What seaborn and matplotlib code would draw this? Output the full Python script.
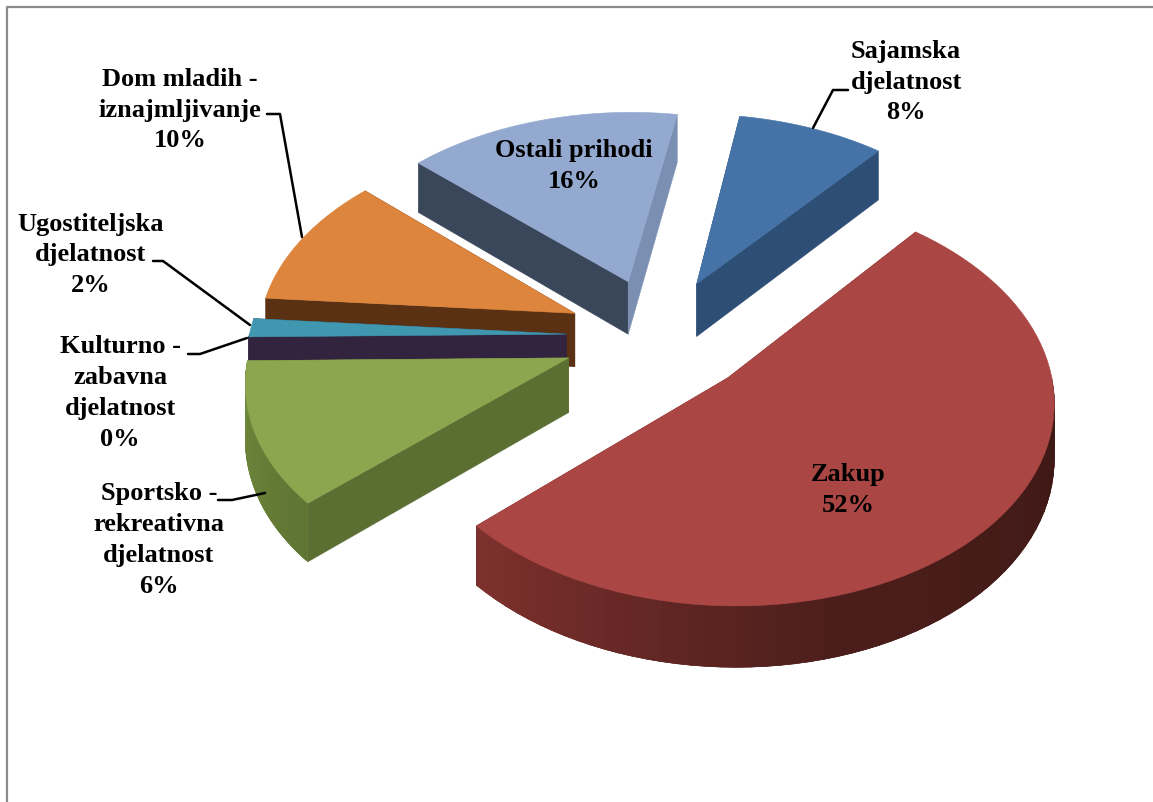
import numpy as np
import matplotlib
matplotlib.use("Agg")
import matplotlib.pyplot as plt
import seaborn as sns

# slices clockwise starting from the small blue one
categories = ['Sajamska\ndjelatnost', 'Zakup', 'Sportsko -\nrekreativna\ndjelatnost',
              'Kulturno -\nzabavna\ndjelatnost', 'Ugostiteljska\ndjelatnost',
              'Dom mladih -\niznajmljivanje', 'Ostali prihodi']
# printed labels
percent_labels = [8, 52, 6, 0, 2, 10, 16]
# share of the circle as drawn (sportsko is drawn bigger than its label says)
drawn_shares = [8.5, 52.4, 11.6, 0, 1.5, 10.7, 15.8]

top_colors = ['#4573a7', '#aa4644', '#8ca64f', '#7d5fa0', '#3f98b0', '#dd853d', '#94a9d0']
wall_colors = ['#2d4e75', '#6e2c2a', '#5c6f33', '#2a2340', '#32233f', '#5a3213', '#3a465a']
# rim colours follow the clockwise direction of each slice
rim_colors = [['#2d4e75', '#2d4e75'],
              ['#3a1714', '#3f1916', '#4c1e1b', '#7d312e'],
              ['#5f7533', '#708a3c'],
              ['#2a2340', '#2a2340'],
              ['#32233f', '#32233f'],
              ['#5a3213', '#5a3213'],
              ['#3a465a', '#3a465a']]
lit_wall = {6: '#7b8fb2'}

# label layout, in pixels of the image
label_xy = [(906, 82), (848, 490), (159, 540), (120, 393), (91, 255), (180, 110), (574, 166)]
leader_paths = [[(813, 128), (833, 90), (848, 90)],
                None,
                [(265, 493), (232, 500), (218, 500)],
                [(247, 338), (200, 354), (188, 354)],
                [(250, 325), (163, 261), (153, 261)],
                [(302, 237), (280, 114), (267, 114)],
                None]

CX, CY = 658, 336
RADIUS, RATIO, PERSP = 317, 0.62, 0.1
DEPTH, START = 54, 9.5
EXPLODE = [0.3, 0.3, 0.3, 0.3, 0.29, 0.29, 0.3]
DRAW_ORDER = [6, 0, 5, 4, 3, 2, 1]


def project(u, v, drop=0.0):
    # disk coordinates -> image pixels, v grows toward the viewer
    s = 1 / (1 - PERSP * v)
    return CX + RADIUS * u * s, CY + RADIUS * RATIO * v * s + drop * s


def fill_quad(ax, a, b, c, d, color, z):
    ax.fill([a[0], b[0], c[0], d[0]], [a[1], b[1], c[1], d[1]],
            facecolor=color, edgecolor=color, linewidth=0.4, zorder=z)


def draw_slice(ax, i, a0, a1, z):
    mid = np.radians((a0 + a1) / 2)
    u0, v0 = EXPLODE[i] * np.sin(mid), -EXPLODE[i] * np.cos(mid)
    angles = np.radians(np.linspace(a0, a1, 80))
    us = u0 + np.sin(angles)
    vs = v0 - np.cos(angles)

    # the two straight walls
    for k, color in ((0, wall_colors[i]), (-1, lit_wall.get(i, wall_colors[i]))):
        fill_quad(ax, project(u0, v0), project(us[k], vs[k]),
                  project(us[k], vs[k], DEPTH), project(u0, v0, DEPTH), color, z)

    # rim, only the part facing the viewer; pieces overlap so no seams show
    n = len(angles)
    shades = sns.blend_palette(rim_colors[i], n - 1)
    for j in range(n - 1):
        if np.cos(angles[j]) > 0 and np.cos(angles[j + 1]) > 0:
            continue
        end = min(j + 2, n - 1)
        fill_quad(ax, project(us[j], vs[j]), project(us[end], vs[end]),
                  project(us[end], vs[end], DEPTH), project(us[j], vs[j], DEPTH),
                  shades[j], z + 0.1)

    # top face
    top = [project(u0, v0)] + [project(a, b) for a, b in zip(us, vs)]
    xs, ys = zip(*top)
    ax.fill(xs, ys, facecolor=top_colors[i], edgecolor=top_colors[i], linewidth=0.4, zorder=z + 0.2)


def main():
    sns.set_theme(style="white")
    plt.rcParams['font.family'] = ['Liberation Serif', 'DejaVu Serif']

    fig = plt.figure(figsize=(11.53, 8.02), dpi=100)
    ax = fig.add_axes([0, 0, 1, 1])
    ax.set_xlim(0, 1153)
    ax.set_ylim(802, 0)
    ax.axis('off')

    shares = np.array(drawn_shares) / sum(drawn_shares) * 360
    edges = START + np.concatenate([[0], np.cumsum(shares)])

    for z, i in enumerate(DRAW_ORDER):
        if drawn_shares[i] > 0:
            draw_slice(ax, i, edges[i], edges[i + 1], z + 1)

    # grey border, only top and left show up in the picture
    ax.plot([7, 7, 1153], [802, 7, 7], color='#8c8c8c', linewidth=1.6, zorder=20, clip_on=False)

    for i, name in enumerate(categories):
        x, y = label_xy[i]
        ax.text(x, y, f"{name}\n{percent_labels[i]}%", ha='center', va='center',
                fontsize=19, fontweight='bold', color='black', linespacing=1.43, zorder=30)
        if leader_paths[i]:
            px, py = zip(*leader_paths[i])
            ax.plot(px, py, color='black', linewidth=1.8, zorder=25)

    fig.savefig("out.png", dpi=100)


if __name__ == "__main__":
    main()
